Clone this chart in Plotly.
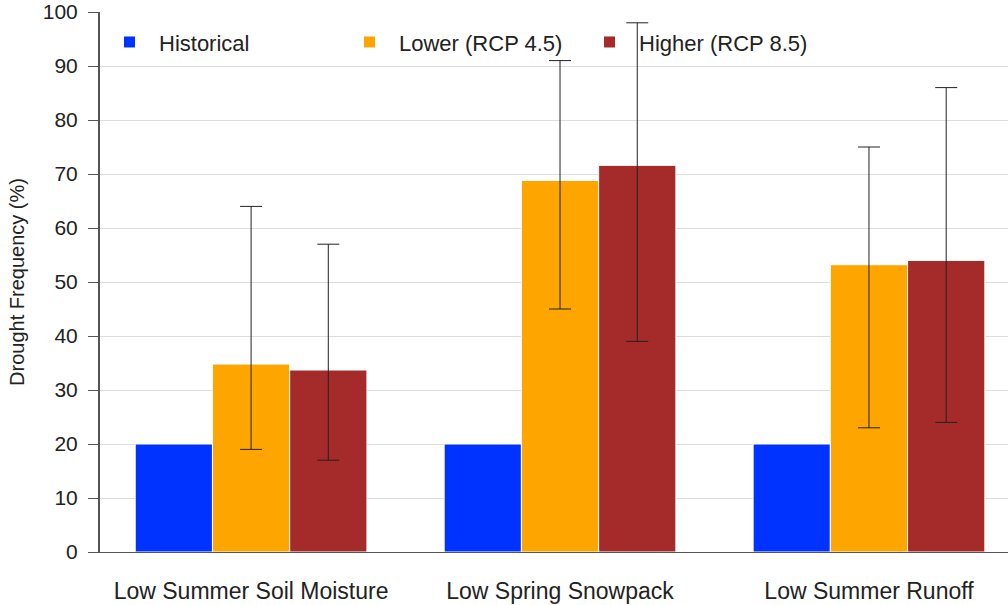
import plotly.graph_objects as go

categories = ["Low Summer Soil Moisture", "Low Spring Snowpack", "Low Summer Runoff"]
historical = [20, 20, 20]
lower = [34.8, 68.8, 53.2]
higher = [33.7, 71.6, 54.0]
lower_hi = [64, 91, 75]
lower_lo = [19, 45, 23]
higher_hi = [57, 98, 86]
higher_lo = [17, 39, 24]

FONT = "Liberation Sans, Arial, sans-serif"

def err(vals, hi, lo):
    return dict(type="data", symmetric=False,
                array=[h - v for h, v in zip(hi, vals)],
                arrayminus=[v - l for v, l in zip(vals, lo)],
                color="#222222", thickness=1, width=11)

fig = go.Figure()
fig.add_trace(go.Bar(name="Historical", x=categories, y=historical,
                     marker=dict(color="#0033FF", line=dict(color="white", width=1))))
fig.add_trace(go.Bar(name="Lower (RCP 4.5)", x=categories, y=lower,
                     marker=dict(color="#FFA500", line=dict(color="white", width=1)),
                     error_y=err(lower, lower_hi, lower_lo)))
fig.add_trace(go.Bar(name="Higher (RCP 8.5)", x=categories, y=higher,
                     marker=dict(color="#A52A2A", line=dict(color="white", width=1)),
                     error_y=err(higher, higher_hi, higher_lo)))

fig.update_layout(
    width=1008, height=605,
    margin=dict(l=100, r=0, t=12, b=53),
    paper_bgcolor="white", plot_bgcolor="white",
    font=dict(family=FONT, size=20, color="#222222"),
    barmode="group", bargap=0.25, bargroupgap=0,
    showlegend=True,
    legend=dict(orientation="h", x=0.0, y=0.983, xanchor="left", yanchor="top",
                entrywidth=176, entrywidthmode="pixels", itemwidth=49,
                font=dict(size=22, color="#222222"), bgcolor="rgba(255,255,255,0)"),
    xaxis=dict(range=[-0.489, 2.45], showgrid=False, showline=True, automargin=False,
               linecolor="#555555", linewidth=1, ticks="",
               ticklabelstandoff=18,
               tickfont=dict(size=23, color="#222222")),
    yaxis=dict(range=[0, 100], dtick=10, showgrid=True, gridcolor="#DDDDDD",
               gridwidth=1, showline=True, linecolor="#555555", linewidth=2,
               automargin=False, ticklabelstandoff=6, ticklabeloverflow="allow",
               ticks="outside", ticklen=10, tickcolor="#555555", zeroline=False,
               tickfont=dict(size=21, color="#222222"),
               title=dict(text="Drought Frequency (%)", standoff=13,
                          font=dict(size=20, color="#222222"))),
)

fig.write_html("out.html", config={"displayModeBar": False},
               post_script="document.body.style.margin='0px';")
